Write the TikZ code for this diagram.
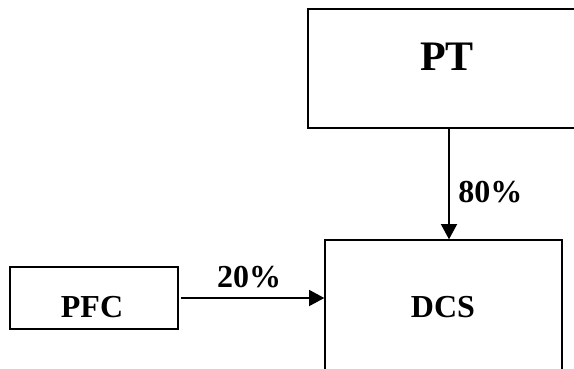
\documentclass[tikz,border=0pt]{standalone}
\usepackage{fontspec}
\setmainfont{Liberation Serif}
\usetikzlibrary{fit,arrows.meta}
\begin{document}
\begin{tikzpicture}[x=0.75pt,y=-0.75pt,
  box/.style={draw,line width=1pt,inner sep=0pt},
  txt/.style={anchor=base,inner sep=0pt,font=\bfseries\fontsize{24}{28}\selectfont},
  bigtxt/.style={anchor=base,inner sep=0pt,font=\bfseries\fontsize{31.5}{36}\selectfont},
  arr/.style={line width=1.5pt,-{Triangle[length=11.5pt,width=12pt]}}]
\useasboundingbox (0,0) rectangle (574,368);
\clip (0,0) rectangle (574,368);
\node[box,fit={(308,9) (590,128)}] (pt) {};
\node[box,fit={(325,240) (562,400)}] (dcs) {};
\node[box,fit={(10,267) (178,329)}] (pfc) {};
\node[bigtxt] (ptlabel) at (447,70) {PT};
\node[txt] (dcslabel) at (443,317) {DCS};
\node[txt] (pfclabel) at (92,317) {PFC};
\draw[arr] (pt.south) -- (pt.south |- dcs.north);
\draw[arr] ([xshift=2pt]pfc.east) -- (pfc.east -| dcs.west);
\node[txt,anchor=base west] (l80) at (458,202) {80\%};
\node[txt] (l20) at (249,287) {20\%};
\end{tikzpicture}
\end{document}
